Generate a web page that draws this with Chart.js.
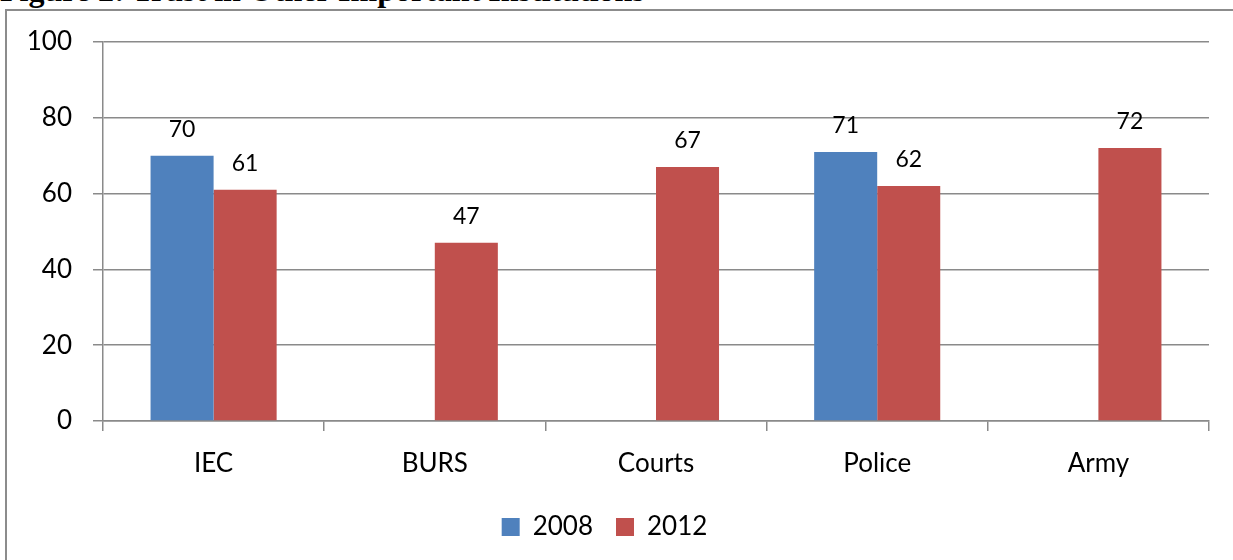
<!DOCTYPE html>
<html>
<head>
<meta charset="utf-8">
<script src="https://cdn.jsdelivr.net/npm/chart.js@4.4.1/dist/chart.umd.min.js"></script>
<style>
  html, body { margin: 0; padding: 0; width: 1233px; height: 560px; overflow: hidden; background: #fff; }
  #title { position: absolute; left: 0; top: -26px; font: bold 32px "Liberation Serif", "Times New Roman", serif; line-height: 32px; white-space: nowrap; color: #000; }
  #frame { position: absolute; left: 5px; top: 9px; width: 1400px; height: 700px; border-left: 2px solid #8c8c8c; border-top: 2px solid #8c8c8c; }
  #wrap { position: absolute; left: 0; top: 0; width: 1255px; height: 560px; }
</style>
</head>
<body>
<div id="title">Figure 2: Trust in Other Important Institutions</div>
<div id="frame"></div>
<div id="wrap"><canvas id="c" width="1255" height="560"></canvas></div>
<script>
const categories = ["IEC", "BURS", "Courts", "Police", "Army"];
const seriesNames = ["2008", "2012"];
const values2008 = [70, null, null, 71, null];
const values2012 = [61, 47, 67, 62, 72];
const yTicks = [0, 20, 40, 60, 80, 100];

const FONT = "Lato, 'Open Sans', 'Liberation Sans', sans-serif";

const dataLabels = {
  id: 'dataLabels',
  afterDatasetsDraw(chart) {
    const ctx = chart.ctx;
    ctx.save();
    ctx.font = "23px " + FONT;
    ctx.fillStyle = "#000";
    ctx.textAlign = "center";
    ctx.textBaseline = "alphabetic";
    chart.data.datasets.forEach((ds, i) => {
      const meta = chart.getDatasetMeta(i);
      meta.data.forEach((bar, j) => {
        const v = ds.data[j];
        if (v === null || v === undefined) return;
        ctx.fillText(String(v), bar.x, bar.y - 19);
      });
    });
    ctx.restore();
  }
};

new Chart(document.getElementById('c'), {
  type: 'bar',
  data: {
    labels: categories,
    datasets: [
      { label: seriesNames[0], data: values2008, backgroundColor: '#4F81BD', borderWidth: 0 },
      { label: seriesNames[1], data: values2012, backgroundColor: '#C0504D', borderWidth: 0 }
    ]
  },
  options: {
    responsive: false,
    animation: false,
    devicePixelRatio: 1,
    layout: { padding: { left: 0, right: 46, top: 42, bottom: 10 } },
    datasets: { bar: { categoryPercentage: 0.57, barPercentage: 1.0 } },
    plugins: {
      legend: {
        position: 'bottom',
        labels: {
          font: { family: FONT, size: 26 },
          color: '#000',
          boxWidth: 18,
          boxHeight: 18,
          padding: 23
        }
      },
      tooltip: { enabled: false }
    },
    scales: {
      x: {
        grid: { drawOnChartArea: false, drawTicks: true, tickLength: 10, color: '#8a8a8a', lineWidth: 1.5 },
        border: { display: true, color: '#8a8a8a', width: 1.5 },
        ticks: { font: { family: FONT, size: 26 }, color: '#000', padding: 17 },
        afterFit(s) { s.height = 70; }
      },
      y: {
        min: 0, max: 100,
        afterBuildTicks(s) { s.ticks = yTicks.map(v => ({ value: v })); },
        grid: { drawOnChartArea: true, drawTicks: true, tickLength: 10, color: '#8a8a8a', lineWidth: 1.5 },
        border: { display: true, color: '#8a8a8a', width: 1.5 },
        ticks: { font: { family: FONT, size: 26 }, color: '#000', padding: 21 },
        afterFit(s) { s.width = 103; }
      }
    }
  },
  plugins: [dataLabels]
});
</script>
</body>
</html>
